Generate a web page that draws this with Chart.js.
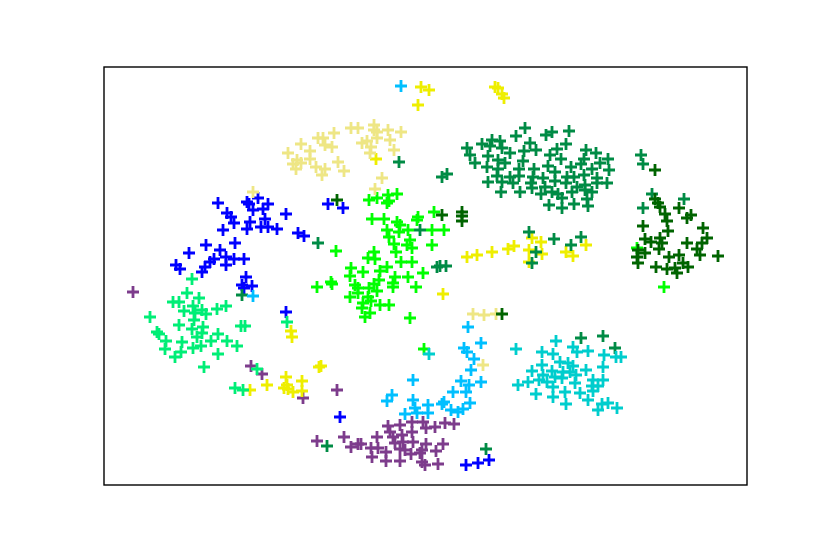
<!DOCTYPE html>
<html>
<head>
<meta charset="utf-8">
<style>
    html, body { margin: 0; padding: 0; background: #fff; }
    canvas { display: block; }
</style>
<script src="https://cdn.jsdelivr.net/npm/chart.js@4"></script>
</head>
<body>
<canvas id="chart" width="830" height="554"></canvas>
<script>
// Embedding scatter, the axes have no ticks, so x/y are read straight off the picture (y runs downward).
const darkGreen = [[655,170],[655,199],[658,203],[660,207],[665,214],[667,221],[679,208],[691,215],[687,218],[643,226],[703,228],[668,231],[660,238],[645,239],[651,242],[662,243],[707,238],[702,243],[687,243],[659,249],[645,253],[638,250],[697,249],[700,255],[637,257],[638,263],[669,257],[679,255],[718,256],[656,267],[667,269],[675,268],[683,263],[688,267],[677,273],[442,215],[462,212],[462,216],[462,221],[337,200],[502,314]];
const khaki = [[288,153],[301,144],[310,151],[310,159],[297,160],[293,164],[301,163],[296,169],[316,167],[325,169],[322,175],[338,162],[344,171],[318,138],[323,138],[325,145],[332,147],[334,133],[351,128],[358,128],[374,125],[374,130],[377,132],[388,130],[401,132],[377,138],[362,143],[367,141],[371,147],[390,140],[370,153],[394,150],[382,178],[375,189],[253,192],[483,365],[473,314],[484,315],[496,314]];
const springGreen = [[192,279],[187,293],[199,298],[173,302],[179,302],[193,306],[184,311],[202,310],[206,314],[217,309],[226,306],[195,313],[194,320],[150,317],[179,325],[192,329],[203,327],[241,326],[245,326],[218,334],[157,332],[159,334],[202,333],[197,337],[166,341],[182,342],[211,341],[227,341],[237,346],[165,349],[193,348],[201,346],[181,352],[175,357],[218,354],[204,367],[287,322],[257,369],[235,388],[243,390]];
const turquoise = [[516,349],[556,341],[573,347],[577,352],[588,351],[542,352],[553,354],[604,355],[616,357],[621,357],[603,367],[542,365],[560,362],[568,363],[573,366],[532,371],[552,371],[586,370],[563,372],[570,372],[576,375],[543,375],[555,377],[562,378],[528,382],[539,380],[547,382],[575,383],[593,380],[603,380],[518,385],[553,387],[592,386],[598,386],[536,394],[565,392],[580,393],[593,391],[553,397],[588,400],[566,404],[602,404],[608,403],[598,410],[617,408],[429,354]];
const skyBlue = [[401,86],[253,296],[468,327],[464,348],[481,343],[467,352],[474,359],[471,370],[413,380],[461,381],[481,382],[469,385],[453,392],[466,392],[392,395],[387,401],[413,400],[470,403],[444,402],[442,404],[428,405],[451,410],[463,409],[458,412],[405,414],[415,408],[417,413],[428,413]];
const lime = [[369,200],[377,198],[388,195],[397,194],[387,203],[389,201],[434,212],[418,217],[417,220],[372,219],[384,219],[397,222],[400,225],[387,230],[399,232],[408,230],[432,230],[444,230],[389,237],[410,240],[394,244],[407,245],[412,248],[432,245],[336,251],[396,252],[374,252],[368,258],[375,259],[401,262],[412,262],[351,268],[363,272],[387,267],[380,271],[350,276],[423,273],[395,277],[408,277],[379,280],[317,287],[331,282],[332,284],[374,284],[393,283],[393,287],[355,285],[358,288],[369,288],[377,291],[416,287],[358,293],[350,297],[368,297],[371,301],[380,305],[389,305],[362,308],[365,317],[370,313],[410,318],[363,303],[424,349],[637,248],[664,287]];
const seaGreen = [[525,128],[516,136],[546,135],[552,132],[569,131],[467,148],[470,155],[475,163],[482,144],[492,140],[490,146],[500,141],[502,148],[510,153],[488,156],[498,160],[505,163],[487,167],[498,169],[530,143],[524,151],[536,150],[566,144],[557,149],[550,155],[561,159],[523,161],[519,169],[548,166],[534,169],[497,176],[488,182],[510,177],[519,176],[502,182],[513,183],[533,177],[555,172],[543,178],[555,181],[531,183],[532,188],[501,192],[520,192],[541,194],[545,187],[552,192],[558,194],[562,198],[549,205],[562,208],[574,204],[588,206],[587,199],[586,150],[596,153],[584,159],[608,159],[600,163],[571,167],[581,164],[592,169],[609,170],[567,177],[574,177],[584,175],[597,178],[566,183],[577,187],[585,185],[597,183],[607,183],[572,192],[592,192],[585,190],[581,338],[603,336],[615,348],[529,232],[554,239],[571,245],[581,237],[536,252],[532,263],[641,155],[643,164],[652,194],[643,208],[684,199],[318,243],[420,230],[437,267],[440,266],[446,266],[399,162],[442,177],[447,174],[242,295],[327,446],[486,449]];
const yellow = [[467,257],[477,255],[492,252],[508,249],[514,246],[532,238],[541,242],[529,250],[542,254],[529,262],[566,252],[573,256],[586,245],[443,294],[421,87],[429,90],[418,105],[376,159],[495,87],[498,88],[502,94],[504,98],[291,331],[292,337],[321,366],[319,367],[286,377],[302,381],[287,385],[284,388],[288,389],[293,392],[302,391],[267,385],[250,390]];
const blue = [[218,203],[247,202],[249,204],[258,198],[268,204],[253,210],[263,209],[227,213],[231,217],[234,223],[286,214],[250,222],[265,219],[247,229],[223,230],[261,227],[268,227],[277,229],[298,233],[304,236],[206,245],[235,243],[189,253],[220,250],[214,259],[226,257],[234,259],[244,259],[226,265],[210,262],[205,267],[202,272],[176,265],[180,269],[246,277],[242,285],[244,288],[252,286],[286,312],[328,204],[343,208],[466,465],[478,463],[489,460],[340,417]];
const purple = [[133,292],[251,366],[262,374],[303,398],[337,390],[317,441],[344,437],[351,447],[358,444],[361,444],[377,437],[371,448],[378,448],[372,457],[386,452],[386,461],[388,426],[390,432],[400,425],[412,422],[423,422],[426,428],[435,427],[445,423],[454,424],[393,437],[402,435],[412,432],[395,443],[403,442],[413,442],[400,449],[405,450],[411,454],[400,461],[420,453],[422,450],[426,444],[436,451],[443,444],[422,462],[425,465],[438,464]];

function makeSeries(points, color) {
    return {
        data: points.map(([x, y]) => ({ x, y })),
        borderColor: color,
        backgroundColor: color,
        pointStyle: 'cross',
        pointRadius: 6,
        pointBorderWidth: 2.8,
        showLine: false,
    };
}

const frame = {
    id: 'frame',
    afterDraw(chart) {
        const { ctx, chartArea } = chart;
        ctx.save();
        ctx.strokeStyle = '#000';
        ctx.lineWidth = 1.4;
        ctx.strokeRect(chartArea.left, chartArea.top, chartArea.width, chartArea.height);
        ctx.restore();
    },
};

new Chart(document.getElementById('chart'), {
    type: 'scatter',
    data: {
        datasets: [
            makeSeries(darkGreen, '#006400'),
            makeSeries(khaki, '#eee685'),
            makeSeries(springGreen, '#00ee76'),
            makeSeries(turquoise, '#00cdcd'),
            makeSeries(skyBlue, '#00bfff'),
            makeSeries(lime, '#00ff00'),
            makeSeries(seaGreen, '#008b45'),
            makeSeries(yellow, '#eeee00'),
            makeSeries(blue, '#0000ff'),
            makeSeries(purple, '#7d3c8c'),
        ],
    },
    options: {
        responsive: false,
        animation: false,
        layout: {
            padding: { left: 104, right: 83, top: 67, bottom: 69 },
        },
        plugins: {
            legend: false,
            tooltip: false,
        },
        scales: {
            x: { display: false, min: 104, max: 747 },
            y: { display: false, min: 67, max: 485, reverse: true },
        },
    },
    plugins: [frame],
});
</script>
</body>
</html>
